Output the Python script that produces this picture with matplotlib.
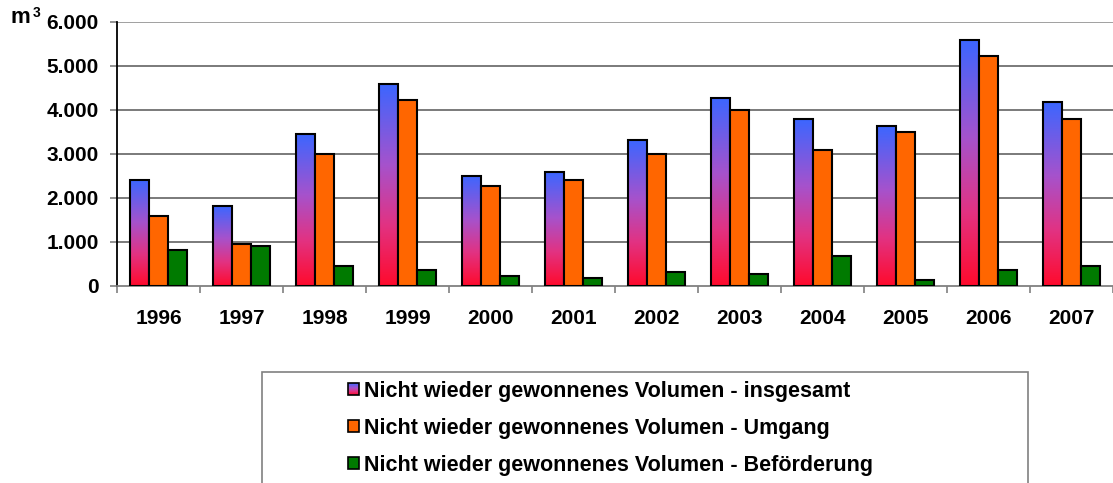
import numpy as np
import matplotlib
matplotlib.use("Agg")
import matplotlib.pyplot as plt
from matplotlib.colors import LinearSegmentedColormap
from matplotlib.patches import Rectangle
from matplotlib.legend_handler import HandlerBase

years = ["1996", "1997", "1998", "1999", "2000", "2001", "2002", "2003", "2004", "2005", "2006", "2007"]
insgesamt = [2400, 1810, 3450, 4580, 2500, 2590, 3310, 4270, 3780, 3630, 5580, 4170]
umgang = [1580, 950, 3000, 4230, 2270, 2400, 3000, 4000, 3080, 3490, 5220, 3780]
befoerderung = [820, 900, 450, 360, 220, 180, 310, 270, 680, 130, 360, 450]
labels = ["Nicht wieder gewonnenes Volumen - insgesamt",
          "Nicht wieder gewonnenes Volumen - Umgang",
          "Nicht wieder gewonnenes Volumen - Beförderung"]
yticks = [0, 1000, 2000, 3000, 4000, 5000, 6000]
ytick_labels = ["0", "1.000", "2.000", "3.000", "4.000", "5.000", "6.000"]

plt.rcParams['font.family'] = ['Liberation Sans', 'DejaVu Sans']
plt.rcParams['font.weight'] = 'bold'

grad_cmap = LinearSegmentedColormap.from_list(
    "grad", [(0.0, "#FF0A2C"), (0.3, "#E23282"), (0.6, "#A652CC"), (1.0, "#3C66FF")])
ORANGE = "#FF6600"
GREEN = "#007A00"

fig = plt.figure(figsize=(11.13, 4.83), dpi=100)
W, H = 1113, 483
ax = fig.add_axes([117 / W, 1 - 285.7 / H, (1113 - 117) / W, (285.7 - 21.7) / H])

x = np.arange(len(years))
w = 0.229
grad = np.linspace(0, 1, 256).reshape(-1, 1)
for xi, v in zip(x, insgesamt):
    ax.imshow(grad, extent=(xi - 1.5 * w, xi - 0.5 * w, 0, v), aspect='auto',
              cmap=grad_cmap, origin='lower', zorder=2, interpolation='bilinear')
ax.bar(x - w, insgesamt, w, align='center', facecolor='none', edgecolor='black', linewidth=1.5, zorder=3)
ax.bar(x, umgang, w, color=ORANGE, edgecolor='black', linewidth=1.5, zorder=3)
ax.bar(x + w, befoerderung, w, color=GREEN, edgecolor='black', linewidth=1.5, zorder=3)

ax.set_xlim(-0.5, len(years) - 0.5)
ax.set_ylim(0, 6000)
ax.set_yticks(yticks)
ax.set_yticklabels(ytick_labels, fontsize=15, fontweight='bold')
ax.set_xticks(x)
ax.set_xticklabels(years, fontsize=15, fontweight='bold')
ax.tick_params(axis='x', which='major', length=0, pad=17)
ax.set_xticks(np.arange(-0.5, len(years), 1.0), minor=True)
ax.tick_params(axis='x', which='minor', length=5, width=1.2, color='#808080', direction='out')
ax.tick_params(axis='y', length=5, width=1.2, color='#808080', pad=8)

for yv in yticks[1:]:
    ax.axhline(yv, color='#999999' if yv == 6000 else '#707070', linewidth=1.3, zorder=1)

for s in ['top', 'right']:
    ax.spines[s].set_visible(False)
ax.spines['left'].set_color('black')
ax.spines['left'].set_linewidth(1.3)
ax.spines['bottom'].set_color('#808080')
ax.spines['bottom'].set_linewidth(1.3)

fig.text(10 / W, 1 - 23 / H, "m", fontsize=16, fontweight='bold', ha='left', va='baseline')
fig.text(33 / W, 1 - 17 / H, "3", fontsize=10, fontweight='bold', ha='left', va='baseline')


class GradHandler(HandlerBase):
    def create_artists(self, legend, orig_handle, xdescent, ydescent, width, height, fontsize, trans):
        arts = []
        n = 12
        for i in range(n):
            r = Rectangle((-xdescent, -ydescent + height * i / n), width, height / n,
                          facecolor=grad_cmap((i + 0.5) / n), edgecolor='none', transform=trans)
            arts.append(r)
        arts.append(Rectangle((-xdescent, -ydescent), width, height, facecolor='none',
                              edgecolor='black', linewidth=1.2, transform=trans))
        return arts


h1 = Rectangle((0, 0), 1, 1)
h2 = Rectangle((0, 0), 1, 1, facecolor=ORANGE, edgecolor='black', linewidth=1.2)
h3 = Rectangle((0, 0), 1, 1, facecolor=GREEN, edgecolor='black', linewidth=1.2)
leg = ax.legend([h1, h2, h3], labels, handler_map={h1: GradHandler()},
                loc='upper left', bbox_to_anchor=(348 / W, 1 - 381 / H), bbox_transform=fig.transFigure,
                frameon=False, prop={'weight': 'bold', 'size': 15.5},
                handlelength=0.5, handleheight=0.5, handletextpad=0.25,
                labelspacing=0.74, borderpad=0, borderaxespad=0)

fig.add_artist(Rectangle((262 / W, -0.05), (1028 - 262) / W, 0.05 + (483 - 372) / H,
                         transform=fig.transFigure, facecolor='none', edgecolor='#808080',
                         linewidth=1.2, clip_on=False))

fig.savefig("out.png", dpi=100)
